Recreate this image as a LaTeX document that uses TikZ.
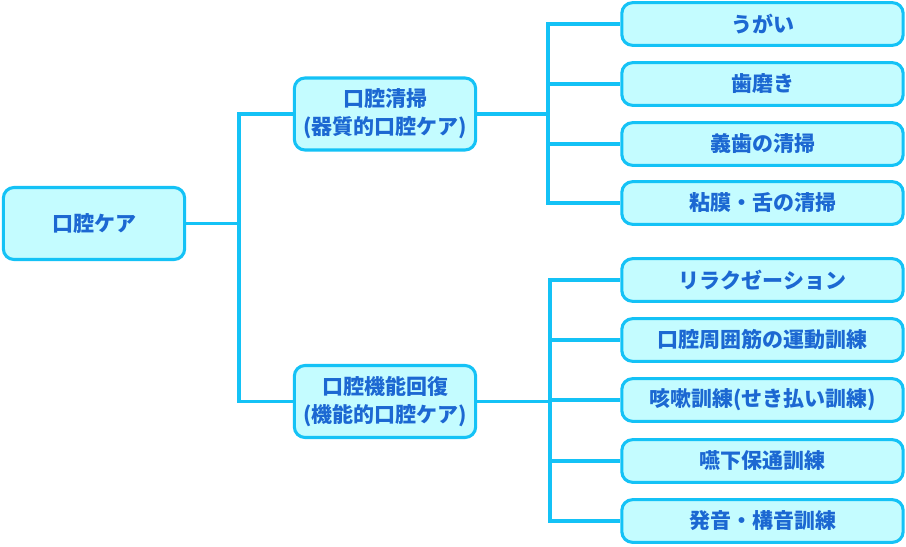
\documentclass[tikz,border=0pt]{standalone}
\usepackage{fontspec}
\newfontfamily\jpfont{Noto Sans CJK JP}
\definecolor{edgeblue}{HTML}{14C2F6}
\definecolor{boxfill}{HTML}{C4FCFF}
\definecolor{textblue}{HTML}{1C68D2}
\begin{document}
\begin{tikzpicture}[x=0.75pt, y=-0.75pt, font=\jpfont\bfseries\fontsize{15.75}{21}\selectfont,
  topic/.style={draw=edgeblue, fill=boxfill, line width=2.3pt, rounded corners=8pt,
                minimum width=#1, inner sep=0pt, align=center, text=textblue},
  big/.style={topic=136pt, minimum height=54pt},
  leaf/.style={topic=211pt, minimum height=32pt},
  conn/.style={draw=edgeblue, line width=2.3pt}
]
  \useasboundingbox (0,0) rectangle (906,546);
  \node[big]  (root)  at (94, 223.5)  {口腔ケア};
  \node[big]  (clean) at (385, 114)   {口腔清掃\\(器質的口腔ケア)};
  \node[big]  (func)  at (385, 401.5) {口腔機能回復\\(機能的口腔ケア)};
  % 口腔清掃
  \node[leaf] (gargle) at (762.5, 24)  {うがい};
  \node[leaf] (brush)  at (762.5, 84)  {歯磨き};
  \node[leaf] (denture)at (762.5, 144) {義歯の清掃};
  \node[leaf] (mucosa) at (762.5, 203) {粘膜・舌の清掃};
  % 口腔機能回復
  \node[leaf] (relax)  at (762.5, 280) {リラクゼーション};
  \node[leaf] (muscle) at (762.5, 340) {口腔周囲筋の運動訓練};
  \node[leaf] (cough)  at (762.5, 400) {咳嗽訓練(せき払い訓練)};
  \node[leaf] (swallow)at (762.5, 461) {嚥下保通訓練};
  \node[leaf] (speech) at (762.5, 521) {発音・構音訓練};
  \coordinate (j0) at (239, 223.5);
  \coordinate (j1) at (548, 114);
  \coordinate (j2) at (550, 401.5);
  \draw[conn] (root) -- (j0);
  \draw[conn] (j0) |- (clean);
  \draw[conn] (j0) |- (func);
  \draw[conn] (clean) -- (j1);
  \foreach \n in {gargle, brush, denture, mucosa}
    \draw[conn] (j1) |- (\n);
  \draw[conn] (func) -- (j2);
  \foreach \n in {relax, muscle, cough, swallow, speech}
    \draw[conn] (j2) |- (\n);
\end{tikzpicture}
\end{document}
